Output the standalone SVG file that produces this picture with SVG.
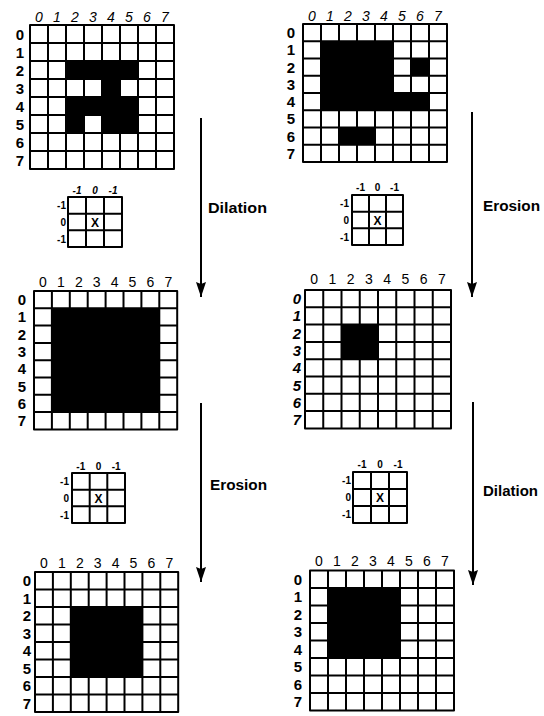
<svg xmlns="http://www.w3.org/2000/svg" width="544" height="716" viewBox="0 0 544 716">
<style>
.g{fill:none;stroke:#000;stroke-width:2;stroke-linejoin:round}
.f{fill:#000}
.ci{font-family:"Liberation Sans",Arial,sans-serif;font-size:14px;font-style:italic;text-anchor:middle}
.cu{font-family:"Liberation Sans",Arial,sans-serif;font-size:14px;text-anchor:middle}
.r{font-family:"Liberation Sans",Arial,sans-serif;font-size:15px;font-weight:bold;text-anchor:middle}
.ri{font-family:"Liberation Sans",Arial,sans-serif;font-size:15px;font-weight:bold;font-style:italic;text-anchor:middle}
.kc{font-family:"Liberation Sans",Arial,sans-serif;font-size:10px;font-weight:bold;text-anchor:middle}
.kci{font-family:"Liberation Sans",Arial,sans-serif;font-size:10px;font-weight:bold;font-style:italic;text-anchor:middle}
.kr{font-family:"Liberation Sans",Arial,sans-serif;font-size:10px;font-weight:bold;text-anchor:end}
.x{font-family:"Liberation Sans",Arial,sans-serif;font-size:12px;font-weight:bold;text-anchor:middle}
.lab{font-family:"Liberation Sans",Arial,sans-serif;font-size:14px;font-weight:bold}
.arr{stroke:#000;stroke-width:2;fill:none}
</style>
<defs>
<marker id="ah" markerUnits="userSpaceOnUse" markerWidth="16" markerHeight="10" refX="15" refY="5" orient="auto" viewBox="0 0 16 10">
<path d="M0,0 L2,5 L0,10 L15,5 Z" fill="#000"/>
</marker>
</defs>

<!-- Grid 1: top-left input -->
<g id="grid-input-left">
<rect class="f" x="66" y="61" width="72" height="18"/>
<rect class="f" x="102" y="79" width="18" height="18"/>
<rect class="f" x="66" y="97" width="72" height="18"/>
<rect class="f" x="66" y="115" width="18" height="18"/>
<rect class="f" x="102" y="115" width="36" height="18"/>
<path class="g" d="M30,25H174V169H30Z M48,25V169 M66,25V169 M84,25V169 M102,25V169 M120,25V169 M138,25V169 M156,25V169 M30,43H174 M30,61H174 M30,79H174 M30,97H174 M30,115H174 M30,133H174 M30,151H174"/>
<g class="ci"><text x="39" y="22">0</text><text x="57" y="22">1</text><text x="75" y="22">2</text><text x="93" y="22">3</text><text x="111" y="22">4</text><text x="129" y="22">5</text><text x="147" y="22">6</text><text x="165" y="22">7</text></g>
<g class="r"><text x="20" y="39.5">0</text><text x="20" y="57.5">1</text><text x="20" y="75.5">2</text><text x="20" y="93.5">3</text><text x="20" y="111.5">4</text><text x="20" y="129.5">5</text><text x="20" y="147.5">6</text><text x="20" y="165.5">7</text></g>
</g>

<!-- Grid 2: top-right input -->
<g id="grid-input-right">
<rect class="f" x="321" y="41.25" width="72" height="69"/>
<rect class="f" x="411" y="58.5" width="18" height="17.25"/>
<rect class="f" x="393" y="93" width="36" height="17.25"/>
<rect class="f" x="339" y="127.5" width="36" height="17.25"/>
<path class="g" d="M303,24H447V162H303Z M321,24V162 M339,24V162 M357,24V162 M375,24V162 M393,24V162 M411,24V162 M429,24V162 M303,41.25H447 M303,58.5H447 M303,75.75H447 M303,93H447 M303,110.25H447 M303,127.5H447 M303,144.75H447"/>
<g class="ci"><text x="312" y="21">0</text><text x="330" y="21">1</text><text x="348" y="21">2</text><text x="366" y="21">3</text><text x="384" y="21">4</text><text x="402" y="21">5</text><text x="420" y="21">6</text><text x="438" y="21">7</text></g>
<g class="r"><text x="291" y="38">0</text><text x="291" y="55.3">1</text><text x="291" y="72.5">2</text><text x="291" y="89.8">3</text><text x="291" y="107">4</text><text x="291" y="124.3">5</text><text x="291" y="141.5">6</text><text x="291" y="158.8">7</text></g>
</g>

<!-- Kernel 1 -->
<g id="kernel-1">
<path class="g" d="M68,197H122V247H68Z M86,197V247 M104,197V247 M68,213.7H122 M68,230.3H122"/>
<g class="kci"><text x="77" y="194">-1</text><text x="95" y="194">0</text><text x="113" y="194">-1</text></g>
<g class="kr"><text x="66" y="209">-1</text><text x="66" y="226">0</text><text x="66" y="243">-1</text></g>
<text class="x" x="95" y="226.5">X</text>
</g>

<!-- Kernel 2 -->
<g id="kernel-2">
<path class="g" d="M352,195H403V245H352Z M369,195V245 M386,195V245 M352,211.7H403 M352,228.3H403"/>
<g class="kc"><text x="360.5" y="191">-1</text><text x="377.5" y="191">0</text><text x="394.5" y="191">-1</text></g>
<g class="kr"><text x="349" y="207">-1</text><text x="349" y="224">0</text><text x="349" y="241">-1</text></g>
<text class="x" x="377.5" y="224.5">X</text>
</g>

<!-- Grid 3: middle-left (after dilation) -->
<g id="grid-dilated-left">
<rect class="f" x="51.9" y="308.3" width="107.4" height="103.8"/>
<path class="g" d="M34,291H177.2V429.4H34Z M51.9,291V429.4 M69.8,291V429.4 M87.7,291V429.4 M105.6,291V429.4 M123.5,291V429.4 M141.4,291V429.4 M159.3,291V429.4 M34,308.3H177.2 M34,325.6H177.2 M34,342.9H177.2 M34,360.2H177.2 M34,377.5H177.2 M34,394.8H177.2 M34,412.1H177.2"/>
<g class="cu"><text x="43" y="287">0</text><text x="60.9" y="287">1</text><text x="78.8" y="287">2</text><text x="96.7" y="287">3</text><text x="114.6" y="287">4</text><text x="132.5" y="287">5</text><text x="150.4" y="287">6</text><text x="168.3" y="287">7</text></g>
<g class="r"><text x="22" y="305">0</text><text x="22" y="322.3">1</text><text x="22" y="339.6">2</text><text x="22" y="356.9">3</text><text x="22" y="374.2">4</text><text x="22" y="391.5">5</text><text x="22" y="408.8">6</text><text x="22" y="426.1">7</text></g>
</g>

<!-- Grid 4: middle-right (after erosion) -->
<g id="grid-eroded-right">
<rect class="f" x="341.5" y="324.6" width="36.5" height="34.6"/>
<path class="g" d="M305,290H451V428.4H305Z M323.25,290V428.4 M341.5,290V428.4 M359.75,290V428.4 M378,290V428.4 M396.25,290V428.4 M414.5,290V428.4 M432.75,290V428.4 M305,307.3H451 M305,324.6H451 M305,341.9H451 M305,359.2H451 M305,376.5H451 M305,393.8H451 M305,411.1H451"/>
<g class="cu"><text x="314.1" y="284">0</text><text x="332.4" y="284">1</text><text x="350.6" y="284">2</text><text x="368.9" y="284">3</text><text x="387.1" y="284">4</text><text x="405.4" y="284">5</text><text x="423.6" y="284">6</text><text x="441.9" y="284">7</text></g>
<g class="ri"><text x="297" y="304">0</text><text x="297" y="321.3">1</text><text x="297" y="338.6">2</text><text x="297" y="355.9">3</text><text x="297" y="373.2">4</text><text x="297" y="390.5">5</text><text x="297" y="407.8">6</text><text x="297" y="425.1">7</text></g>
</g>

<!-- Kernel 3 -->
<g id="kernel-3">
<path class="g" d="M72,473H125V523H72Z M89.7,473V523 M107.3,473V523 M72,489.7H125 M72,506.3H125"/>
<g class="kc"><text x="80.8" y="470">-1</text><text x="98.5" y="470">0</text><text x="116.2" y="470">-1</text></g>
<g class="kr"><text x="69" y="485">-1</text><text x="69" y="502">0</text><text x="69" y="519">-1</text></g>
<text class="x" x="98.5" y="502.5">X</text>
</g>

<!-- Kernel 4 -->
<g id="kernel-4">
<path class="g" d="M353,472H407V523H353Z M371,472V523 M389,472V523 M353,489H407 M353,506H407"/>
<g class="kc"><text x="362" y="468">-1</text><text x="380" y="468">0</text><text x="398" y="468">-1</text></g>
<g class="kr"><text x="351" y="484">-1</text><text x="351" y="501">0</text><text x="351" y="518">-1</text></g>
<text class="x" x="380" y="502">X</text>
</g>

<!-- Grid 5: bottom-left (opening result) -->
<g id="grid-result-left">
<rect class="f" x="70.8" y="607" width="71.6" height="70"/>
<path class="g" d="M35,572H178.2V712H35Z M52.9,572V712 M70.8,572V712 M88.7,572V712 M106.6,572V712 M124.5,572V712 M142.4,572V712 M160.3,572V712 M35,589.5H178.2 M35,607H178.2 M35,624.5H178.2 M35,642H178.2 M35,659.5H178.2 M35,677H178.2 M35,694.5H178.2"/>
<g class="cu"><text x="44" y="568">0</text><text x="61.9" y="568">1</text><text x="79.8" y="568">2</text><text x="97.7" y="568">3</text><text x="115.6" y="568">4</text><text x="133.5" y="568">5</text><text x="151.4" y="568">6</text><text x="169.3" y="568">7</text></g>
<g class="r"><text x="27" y="586.2">0</text><text x="27" y="603.7">1</text><text x="27" y="621.2">2</text><text x="27" y="638.7">3</text><text x="27" y="656.2">4</text><text x="27" y="673.7">5</text><text x="27" y="691.2">6</text><text x="27" y="708.7">7</text></g>
</g>

<!-- Grid 6: bottom-right (closing result) -->
<g id="grid-result-right">
<rect class="f" x="328" y="588" width="72" height="70"/>
<path class="g" d="M310,570.5H454V710.5H310Z M328,570.5V710.5 M346,570.5V710.5 M364,570.5V710.5 M382,570.5V710.5 M400,570.5V710.5 M418,570.5V710.5 M436,570.5V710.5 M310,588H454 M310,605.5H454 M310,623H454 M310,640.5H454 M310,658H454 M310,675.5H454 M310,693H454"/>
<g class="cu"><text x="319" y="566">0</text><text x="337" y="566">1</text><text x="355" y="566">2</text><text x="373" y="566">3</text><text x="391" y="566">4</text><text x="409" y="566">5</text><text x="427" y="566">6</text><text x="445" y="566">7</text></g>
<g class="r"><text x="298" y="584.7">0</text><text x="298" y="602.2">1</text><text x="298" y="619.7">2</text><text x="298" y="637.2">3</text><text x="298" y="654.7">4</text><text x="298" y="672.2">5</text><text x="298" y="689.7">6</text><text x="298" y="707.2">7</text></g>
</g>

<!-- Connectors -->
<g id="connectors">
<line class="arr" x1="201" y1="118" x2="201" y2="297" marker-end="url(#ah)"/>
<line class="arr" x1="472" y1="112" x2="472" y2="297" marker-end="url(#ah)"/>
<line class="arr" x1="201" y1="403" x2="201" y2="582" marker-end="url(#ah)"/>
<line class="arr" x1="473" y1="402" x2="473" y2="585" marker-end="url(#ah)"/>
<text class="lab" x="208" y="213" textLength="59" lengthAdjust="spacingAndGlyphs">Dilation</text>
<text class="lab" x="483" y="211" textLength="57" lengthAdjust="spacingAndGlyphs">Erosion</text>
<text class="lab" x="210" y="490" textLength="57" lengthAdjust="spacingAndGlyphs">Erosion</text>
<text class="lab" x="483" y="496" textLength="55" lengthAdjust="spacingAndGlyphs">Dilation</text>
</g>
</svg>
